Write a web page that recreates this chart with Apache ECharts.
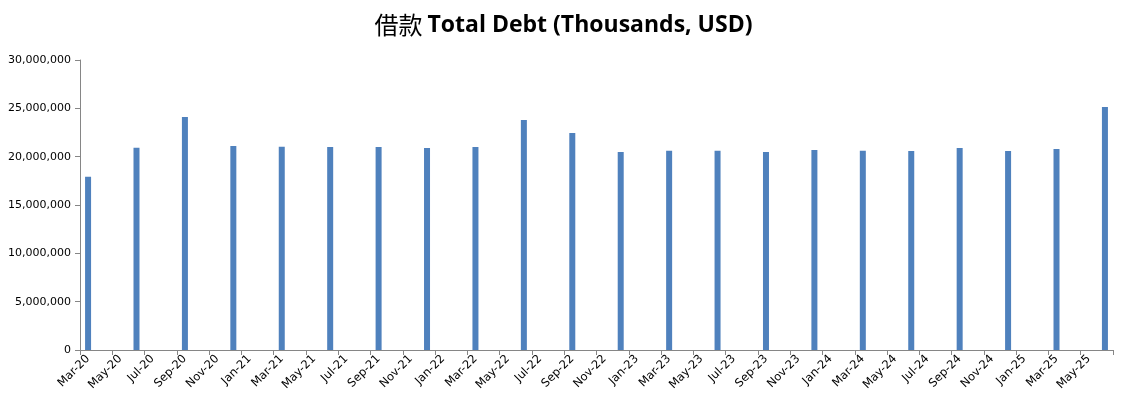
<!DOCTYPE html>
<html>
<head>
<meta charset="utf-8">
<script src="https://cdn.jsdelivr.net/npm/echarts@6/dist/echarts.min.js"></script>
<style>
html,body{margin:0;padding:0;background:#fff;}
#chart{width:1127px;height:411px;}
</style>
</head>
<body>
<div id="chart"></div>
<script>
// Month axis: Mar-20 .. Jun-25
const monthNames = ['Jan','Feb','Mar','Apr','May','Jun','Jul','Aug','Sep','Oct','Nov','Dec'];
const startYear = 2020, startMonth = 2;   // Mar 2020
const endYear = 2025, endMonth = 5;       // Jun 2025

// Quarterly total debt (thousands USD)
const barDates = ['Mar-20','Jun-20','Sep-20','Dec-20','Mar-21','Jun-21','Sep-21','Dec-21',
  'Mar-22','Jun-22','Sep-22','Dec-22','Mar-23','Jun-23','Sep-23','Dec-23',
  'Mar-24','Jun-24','Sep-24','Dec-24','Mar-25','Jun-25'];
const barValues = [17920000, 20930000, 24100000, 21100000, 21030000, 21000000, 21000000, 20900000,
  21000000, 23800000, 22450000, 20480000, 20600000, 20600000, 20480000, 20700000,
  20600000, 20590000, 20900000, 20590000, 20800000, 25140000];

const titleCn = '借款';
const titleEn = 'Total Debt (Thousands, USD)';

const categories = [];
for (let y = startYear, m = startMonth; y < endYear || (y === endYear && m <= endMonth); ) {
  categories.push(monthNames[m] + '-' + String(y).slice(2));
  m++; if (m > 11) { m = 0; y++; }
}
const valueByDate = {};
barDates.forEach((d, i) => { valueByDate[d] = barValues[i]; });
const seriesData = categories.map(c => (c in valueByDate ? valueByDate[c] : '-'));

const chart = echarts.init(document.getElementById('chart'));
chart.setOption({
  animation: false,
  backgroundColor: '#ffffff',
  title: {
    text: '{cn|' + titleCn + '} {en|' + titleEn + '}',
    left: 'center',
    top: 8,
    textStyle: {
      rich: {
        cn: {
          fontFamily: '"Noto Sans CJK SC",sans-serif',
          fontWeight: 'normal',
          fontSize: 24,
          color: '#000'
        },
        en: {
          fontFamily: '"Open Sans",sans-serif',
          fontWeight: 'bold',
          fontSize: 23,
          color: '#000'
        }
      }
    }
  },
  grid: { left: 80, right: 14, top: 60, bottom: 61, containLabel: false },
  xAxis: {
    type: 'category',
    data: categories,
    boundaryGap: true,
    axisLine: { lineStyle: { color: '#868686', width: 1 } },
    axisTick: { show: true, interval: 1, length: 5, lineStyle: { color: '#868686', width: 1 } },
    axisLabel: {
      interval: 1,
      rotate: 45,
      margin: 7,
      fontFamily: '"DejaVu Sans",sans-serif',
      fontSize: 11.5,
      color: '#000'
    },
    splitLine: { show: false }
  },
  yAxis: {
    type: 'value',
    min: 0,
    max: 30000000,
    interval: 5000000,
    axisLine: { show: true, lineStyle: { color: '#868686', width: 1 } },
    axisTick: { show: true, length: 5, lineStyle: { color: '#868686' } },
    axisLabel: {
      margin: 9,
      fontFamily: '"DejaVu Sans",sans-serif',
      fontSize: 11,
      color: '#000',
      formatter: v => v.toLocaleString('en-US')
    },
    splitLine: { show: false }
  },
  series: [{
    type: 'bar',
    data: seriesData,
    barWidth: 6,
    itemStyle: { color: '#4F81BD' }
  }]
});
</script>
</body>
</html>
